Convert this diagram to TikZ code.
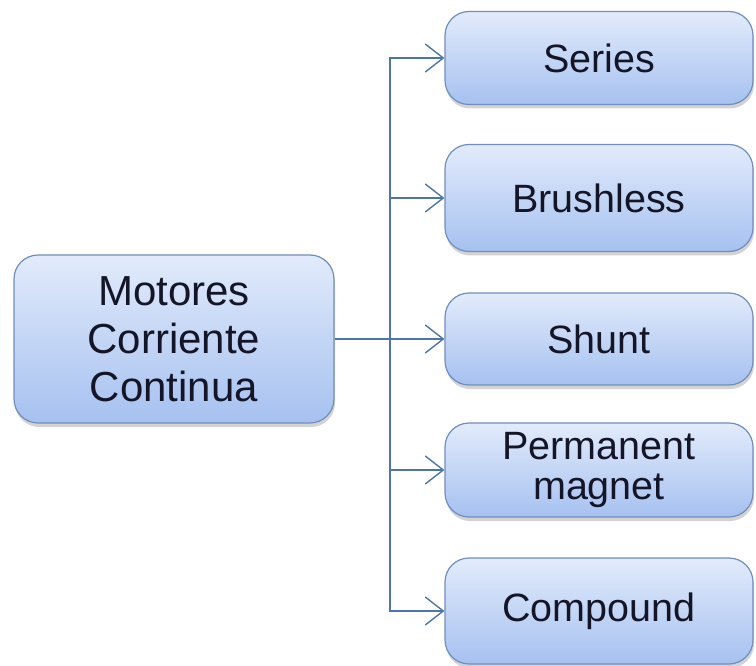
\documentclass[tikz,border=0pt]{standalone}
\usepackage{fontspec}
\setmainfont{Liberation Sans}
\usepackage{tikz}
\usetikzlibrary{arrows.meta, positioning, shadows}

\definecolor{boxtop}{RGB}{226,235,251}
\definecolor{boxbot}{RGB}{166,193,240}
\definecolor{boxline}{RGB}{112,142,190}
\definecolor{connline}{RGB}{78,116,172}
\definecolor{boxtext}{RGB}{20,22,40}

\begin{document}
\begin{tikzpicture}[
        x=1pt, y=-1pt,
        box/.style={rectangle, rounded corners=24pt, draw=boxline, line width=1.2pt,
            top color=boxtop, bottom color=boxbot, align=center,
            font=\fontsize{42}{48}\selectfont, text=boxtext,
            drop shadow={shadow xshift=1pt, shadow yshift=-4pt, opacity=0.35, fill=gray}},
        kind/.style={box, minimum width=308pt, font=\fontsize{39.5}{40}\selectfont},
        arr/.style={-{Straight Barb[length=18pt, width=28pt, line width=1.4pt]}, draw=connline, line width=1.4pt},
    ]
        \useasboundingbox (0,0) rectangle (756,666);

        \node[box, minimum width=320pt, minimum height=168pt] (motores) at (174,339) {Motores\\Corriente\\Continua};

        \node[kind, minimum height=93pt] (series) at (599,58) {Series};
        \node[kind, minimum height=107pt] (brushless) at (599,198) {Brushless};
        \node[kind, minimum height=92pt] (shunt) at (599,339) {Shunt};
        \node[kind, minimum height=94pt] (permanent) at (599,470) {Permanent\\magnet};
        \node[kind, minimum height=106pt] (compound) at (599,611) {Compound};

        \coordinate (split) at (390,339);
        \draw[draw=connline, line width=1.4pt] (motores.east) -- (split);
        \foreach \kind in {series, brushless, shunt, permanent, compound}
            \draw[arr] (split) |- (\kind.west);
    \end{tikzpicture}
\end{document}
